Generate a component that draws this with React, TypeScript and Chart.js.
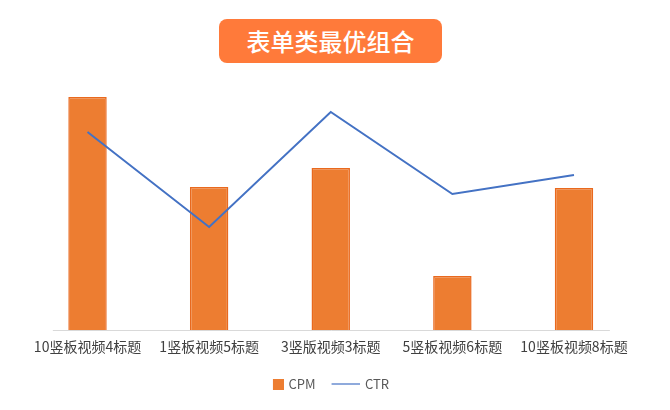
import { useEffect, useRef } from "react"
import { Chart, registerables } from "chart.js"

Chart.register(...registerables)

const categories = ["10竖板视频4标题", "1竖板视频5标题", "3竖版视频3标题", "5竖板视频6标题", "10竖板视频8标题"]
const cpmValues = [23.3, 14.3, 16.2, 5.4, 14.2]
const ctrValues = [1.98, 1.03, 2.18, 1.36, 1.55]

const FONT = "'Noto Sans CJK SC', 'Noto Sans', sans-serif"
const ORANGE = "#ED7D31"
const BLUE = "#4472C4"

function makeIcon(kind: "bar" | "line") {
  const c = document.createElement("canvas")
  const ctx = c.getContext("2d")!
  if (kind === "bar") {
    c.width = 32
    c.height = 11
    ctx.fillStyle = ORANGE
    ctx.fillRect(21, 0, 11, 11)
  } else {
    c.width = 30
    c.height = 2
    ctx.fillStyle = "#8FAADC"
    ctx.fillRect(2, 0, 28, 2)
  }
  return c
}

// faint baseline under the bars, a bit shorter than the plot area
const baseline = {
  id: "baseline",
  beforeDatasetsDraw(chart: any) {
    const x = chart.scales.x
    const y = chart.scales.y
    const step = x.getPixelForValue(1) - x.getPixelForValue(0)
    const left = x.getPixelForValue(0) - step * 0.285
    const right = x.getPixelForValue(categories.length - 1) + step * 0.295
    const py = y.getPixelForValue(0)
    const ctx = chart.ctx
    ctx.save()
    ctx.strokeStyle = "#D9D9D9"
    ctx.lineWidth = 1
    ctx.beginPath()
    ctx.moveTo(left, py + 0.5)
    ctx.lineTo(right, py + 0.5)
    ctx.stroke()
    ctx.restore()
  },
}

export default function App() {
  const chartRef = useRef<HTMLCanvasElement>(null)
  const chartInstance = useRef<Chart | null>(null)

  useEffect(() => {
    if (!chartRef.current) return
    if (chartInstance.current) chartInstance.current.destroy()
    const ctx = chartRef.current.getContext("2d")
    if (!ctx) return

    const cpmIcon = makeIcon("bar")
    const ctrIcon = makeIcon("line")

    chartInstance.current = new Chart(ctx, {
      type: "bar",
      data: {
        labels: categories,
        datasets: [
          {
            type: "bar",
            label: "CPM",
            data: cpmValues,
            backgroundColor: ORANGE,
            borderColor: "#E9691E",
            borderWidth: 1.5,
            categoryPercentage: 1,
            barPercentage: 0.316,
            yAxisID: "y",
            order: 1,
          },
          {
            type: "line",
            label: "CTR",
            data: ctrValues,
            borderColor: BLUE,
            borderWidth: 2,
            pointRadius: 0,
            tension: 0,
            fill: false,
            yAxisID: "y1",
            order: 0,
          },
        ] as any,
      },
      options: {
        animation: false,
        responsive: true,
        maintainAspectRatio: false,
        layout: { padding: { top: 80, left: 0, right: 27, bottom: 9.2 } },
        scales: {
          x: {
            grid: { display: false, drawTicks: false },
            border: { display: false },
            ticks: {
              color: "#404040",
              padding: 8,
              maxRotation: 0,
              autoSkip: false,
              font: { family: FONT, size: 14 },
            },
          },
          y: {
            position: "left",
            min: 0,
            max: 25,
            grid: { display: false, drawTicks: false },
            border: { display: false },
            ticks: { display: false },
            afterFit: (s: any) => {
              s.width = 26.7
            },
          },
          y1: {
            position: "right",
            min: 0,
            max: 2.5,
            grid: { display: false, drawTicks: false },
            border: { display: false },
            ticks: { display: false },
            afterFit: (s: any) => {
              s.width = 8.2
            },
          },
        },
        plugins: {
          title: { display: false },
          tooltip: { enabled: false },
          legend: {
            position: "bottom",
            labels: {
              usePointStyle: true,
              pointStyleWidth: 28,
              padding: 15,
              color: "#595959",
              font: { family: FONT, size: 13 },
              generateLabels: () => [
                { text: "CPM", pointStyle: cpmIcon, datasetIndex: 0, hidden: false, lineWidth: 0, fontColor: "#595959" },
                { text: "CTR", pointStyle: ctrIcon, datasetIndex: 1, hidden: false, lineWidth: 0, fontColor: "#595959" },
              ] as any,
            },
          },
        },
      },
      plugins: [baseline],
    })

    return () => {
      if (chartInstance.current) {
        chartInstance.current.destroy()
        chartInstance.current = null
      }
    }
  }, [])

  return (
    <div style={{ position: "absolute", left: 0, top: 0, width: 670, height: 410, background: "#fff" }}>
      <canvas ref={chartRef} />
      <div
        style={{
          position: "absolute",
          left: 219,
          top: 19,
          width: 223,
          height: 44,
          borderRadius: 8,
          background: "#FF7A3A",
          color: "#fff",
          fontFamily: FONT,
          fontSize: 24,
          fontWeight: 500,
          display: "flex",
          alignItems: "center",
          justifyContent: "center",
          lineHeight: 1,
        }}
      >
        表单类最优组合
      </div>
    </div>
  )
}
